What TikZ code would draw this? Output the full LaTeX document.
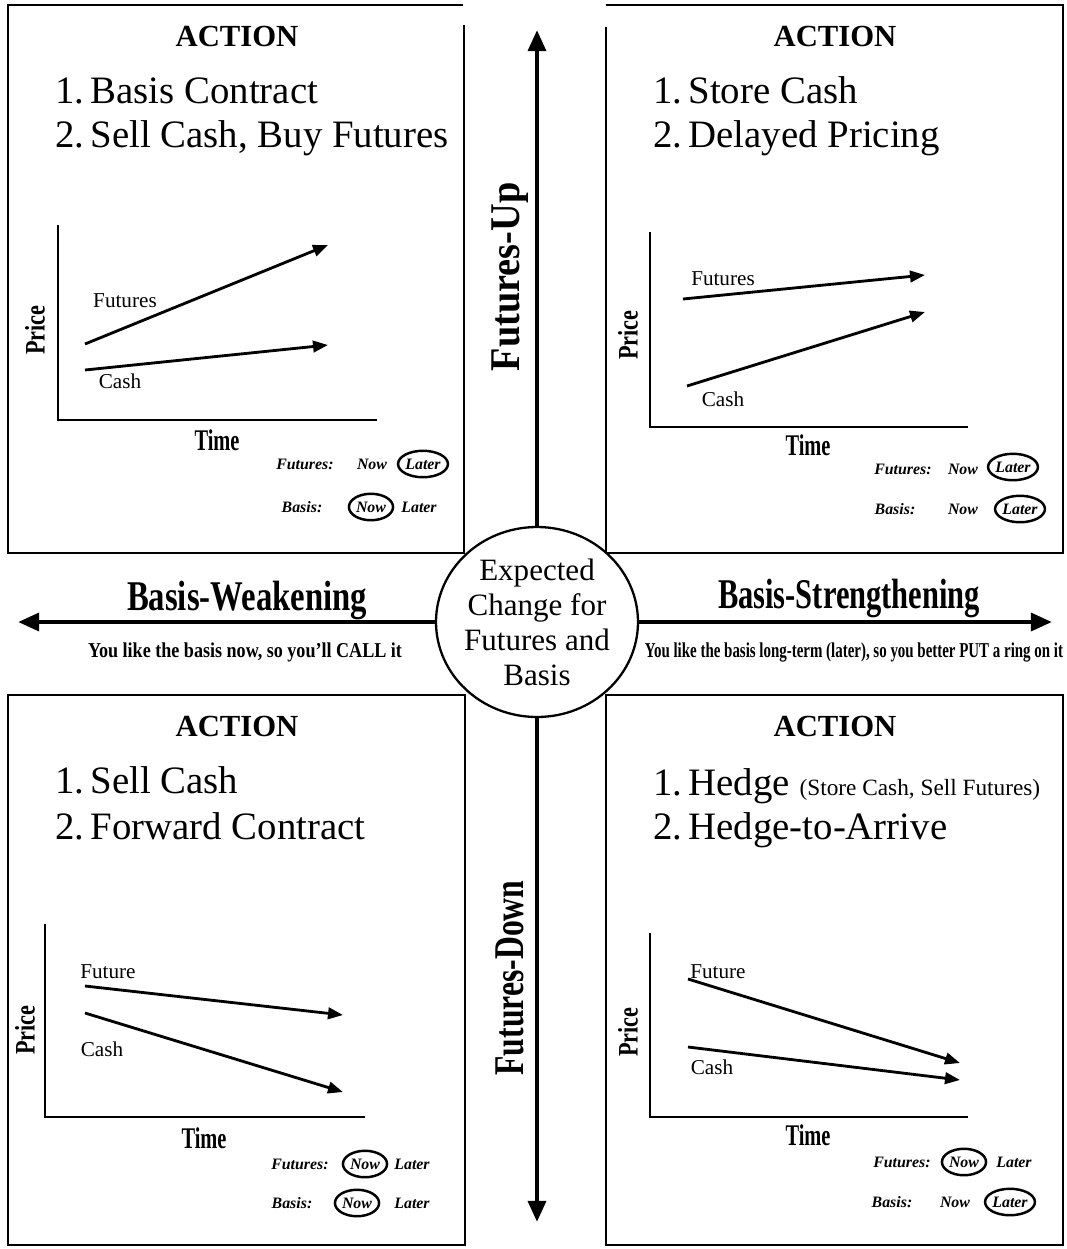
\documentclass[tikz,border=0pt]{standalone}
\usepackage{fontspec}
\usepackage{graphicx}
\setmainfont{Liberation Serif}
\usetikzlibrary{arrows.meta,shapes.geometric}
\begin{document}
\begin{tikzpicture}[x=0.5669pt,y=-0.5669pt,
 panelbox/.style={line width=1.1pt},
 axisline/.style={line width=1.5pt},
 trend/.style={line width=1.6pt,-{Triangle[length=8.5pt,width=6.5pt]}},
 bigarrow/.style={line width=2.6pt,{Triangle[length=12pt,width=10pt]}-{Triangle[length=12pt,width=10pt]}},
 actiontitle/.style={inner sep=0,anchor=base,font=\fontsize{17.4pt}{20pt}\selectfont\bfseries},
 item/.style={inner sep=0,anchor=base west,font=\fontsize{22pt}{26pt}\selectfont},
 serieslabel/.style={inner sep=0,font=\fontsize{12pt}{14pt}\selectfont},
 pricelabel/.style={inner sep=0,rotate=90,font=\fontsize{16pt}{18pt}\selectfont\bfseries},
 timelabel/.style={inner sep=0,font=\fontsize{17pt}{19pt}\selectfont\bfseries},
 legend/.style={inner sep=0,font=\fontsize{9pt}{10pt}\selectfont\bfseries\itshape},
 ring/.style={legend,draw,ellipse,line width=1.4pt,minimum width=25pt,minimum height=15pt},
 centerdisc/.style={draw,ellipse,fill=white,line width=1.3pt,minimum width=114.5pt,minimum height=107.7pt,inner sep=0},
 disctext/.style={inner sep=0,align=center,font=\fontsize{17.6pt}{19.8pt}\selectfont},
 axistitle/.style={inner sep=0,font=\fontsize{24pt}{26pt}\selectfont\bfseries},
 note/.style={inner sep=0,font=\fontsize{12pt}{14pt}\selectfont\bfseries}
]
\useasboundingbox[fill=white] (0,0) rectangle (1067,1249);

% ---------- panel borders ----------
\draw[panelbox] (464,25) -- (464,553) -- (8,553) -- (8,5) -- (463,5);
\draw[panelbox] (606,27) -- (606,553) -- (1063,553) -- (1063,5) -- (606,5);
\draw[panelbox] (8,695) rectangle (465,1245);
\draw[panelbox] (606,695) rectangle (1063,1245);

% ---------- main arrows ----------
\coordinate (vtop) at (537,30);
\coordinate (vbot) at (537,1222);
\coordinate (hleft) at (18,622);
\coordinate (hright) at (1052,622);
\draw[bigarrow] (vbot) -- (vtop);
\draw[bigarrow] (hleft) -- (hright);

\node[centerdisc] (disc) at (537,622) {};
\node[disctext] (disclabel) at (disc.center) {Expected\\Change for\\Futures and\\Basis};

\node[axistitle,rotate=90] (fup) at (510,277) {\resizebox{107pt}{\height}{Futures-Up}};
\node[axistitle,rotate=90] (fdown) at (510,978) {\resizebox{110.5pt}{\height}{Futures-Down}};
\node[axistitle] (bweak) at (247,600) {\resizebox{136pt}{\height}{Basis-Weakening}};
\node[axistitle] (bstrong) at (849,598) {\resizebox{148.5pt}{\height}{Basis-Strengthening}};
\node[note] (callnote) at (245,652) {\resizebox{178pt}{\height}{You like the basis now, so you'll CALL it}};
\node[note] (putnote) at (854,652) {\resizebox{237pt}{\height}{You like the basis long-term (later), so you better PUT a ring on it}};

% ---------- top-left panel ----------
\node[actiontitle] (tlact) at (237,46) {ACTION};
\node[item] (tl1) at (55,103) {1.\hspace{3.5pt}Basis Contract};
\node[item] (tl2) at (55,147) {2.\hspace{3.5pt}Sell Cash, Buy Futures};
\coordinate (tlY) at (58,225);
\coordinate (tlO) at (58,420);
\coordinate (tlX) at (377,420);
\draw[axisline] (tlY) -- (tlO) -- (tlX);
\coordinate (tlFa) at (85,344); \coordinate (tlFb) at (328,245);
\coordinate (tlCa) at (85,370); \coordinate (tlCb) at (328,345);
\draw[trend] (tlFa) -- (tlFb);
\draw[trend] (tlCa) -- (tlCb);
\node[serieslabel] (tlFl) at (125,301) {Futures};
\node[serieslabel] (tlCl) at (120,381) {Cash};
\node[pricelabel] (tlP) at (35,330) {\resizebox{28pt}{\height}{Price}};
\node[timelabel] (tlT) at (217,440) {\resizebox{25.5pt}{\height}{Time}};
\node[legend] (tlL1) at (305,464) {Futures:};
\node[legend] (tlL1a) at (372,464) {Now};
\node[ring] (tlL1b) at (423,464) {Later};
\node[legend] (tlL2) at (302,507) {Basis:};
\node[ring] (tlL2a) at (371,507) {Now};
\node[legend] (tlL2b) at (419,507) {Later};

% ---------- top-right panel ----------
\node[actiontitle] (tract) at (835,46) {ACTION};
\node[item] (tr1) at (653,103) {1.\hspace{3.5pt}Store Cash};
\node[item] (tr2) at (653,147) {2.\hspace{3.5pt}Delayed Pricing};
\coordinate (trY) at (650,232);
\coordinate (trO) at (650,427);
\coordinate (trX) at (968,427);
\draw[axisline] (trY) -- (trO) -- (trX);
\coordinate (trFa) at (683,299); \coordinate (trFb) at (925,275);
\coordinate (trCa) at (687,386); \coordinate (trCb) at (925,312);
\draw[trend] (trFa) -- (trFb);
\draw[trend] (trCa) -- (trCb);
\node[serieslabel] (trFl) at (723,279) {Futures};
\node[serieslabel] (trCl) at (723,399) {Cash};
\node[pricelabel] (trP) at (628,335) {\resizebox{28pt}{\height}{Price}};
\node[timelabel] (trT) at (808,445) {\resizebox{25.5pt}{\height}{Time}};
\node[legend] (trL1) at (903,469) {Futures:};
\node[legend] (trL1a) at (963,469) {Now};
\node[ring] (trL1b) at (1013,467) {Later};
\node[legend] (trL2) at (895,509) {Basis:};
\node[legend] (trL2a) at (963,509) {Now};
\node[ring] (trL2b) at (1020,509) {Later};

% ---------- bottom-left panel ----------
\node[actiontitle] (blact) at (237,736) {ACTION};
\node[item] (bl1) at (55,793) {1.\hspace{3.5pt}Sell Cash};
\node[item] (bl2) at (55,839) {2.\hspace{3.5pt}Forward Contract};
\coordinate (blY) at (45,924);
\coordinate (blO) at (45,1117);
\coordinate (blX) at (365,1117);
\draw[axisline] (blY) -- (blO) -- (blX);
\coordinate (blFa) at (85,986); \coordinate (blFb) at (343,1015);
\coordinate (blCa) at (85,1013); \coordinate (blCb) at (343,1092);
\draw[trend] (blFa) -- (blFb);
\draw[trend] (blCa) -- (blCb);
\node[serieslabel] (blFl) at (108,972) {Future};
\node[serieslabel] (blCl) at (102,1049) {Cash};
\node[pricelabel] (blP) at (25,1030) {\resizebox{28pt}{\height}{Price}};
\node[timelabel] (blT) at (204,1138) {\resizebox{25.5pt}{\height}{Time}};
\node[legend] (blL1) at (300,1164) {Futures:};
\node[ring] (blL1a) at (365,1164) {Now};
\node[legend] (blL1b) at (412,1164) {Later};
\node[legend] (blL2) at (292,1203) {Basis:};
\node[ring] (blL2a) at (357,1203) {Now};
\node[legend] (blL2b) at (412,1203) {Later};

% ---------- bottom-right panel ----------
\node[actiontitle] (bract) at (835,736) {ACTION};
\node[item] (br1) at (653,795) {1.\hspace{3.5pt}Hedge {\fontsize{13.2pt}{15pt}\selectfont(Store Cash, Sell Futures)}};
\node[item] (br2) at (653,839) {2.\hspace{3.5pt}Hedge-to-Arrive};
\coordinate (brY) at (650,933);
\coordinate (brO) at (650,1117);
\coordinate (brX) at (968,1117);
\draw[axisline] (brY) -- (brO) -- (brX);
\coordinate (brFa) at (688,979); \coordinate (brFb) at (960,1063);
\coordinate (brCa) at (688,1047); \coordinate (brCb) at (960,1080);
\draw[trend] (brFa) -- (brFb);
\draw[trend] (brCa) -- (brCb);
\node[serieslabel] (brFl) at (718,972) {Future};
\node[serieslabel] (brCl) at (712,1067) {Cash};
\node[pricelabel] (brP) at (628,1032) {\resizebox{28pt}{\height}{Price}};
\node[timelabel] (brT) at (808,1135) {\resizebox{25.5pt}{\height}{Time}};
\node[legend] (brL1) at (902,1162) {Futures:};
\node[ring] (brL1a) at (964,1162) {Now};
\node[legend] (brL1b) at (1014,1162) {Later};
\node[legend] (brL2) at (892,1202) {Basis:};
\node[legend] (brL2a) at (955,1202) {Now};
\node[ring] (brL2b) at (1010,1202) {Later};
\end{tikzpicture}
\end{document}
